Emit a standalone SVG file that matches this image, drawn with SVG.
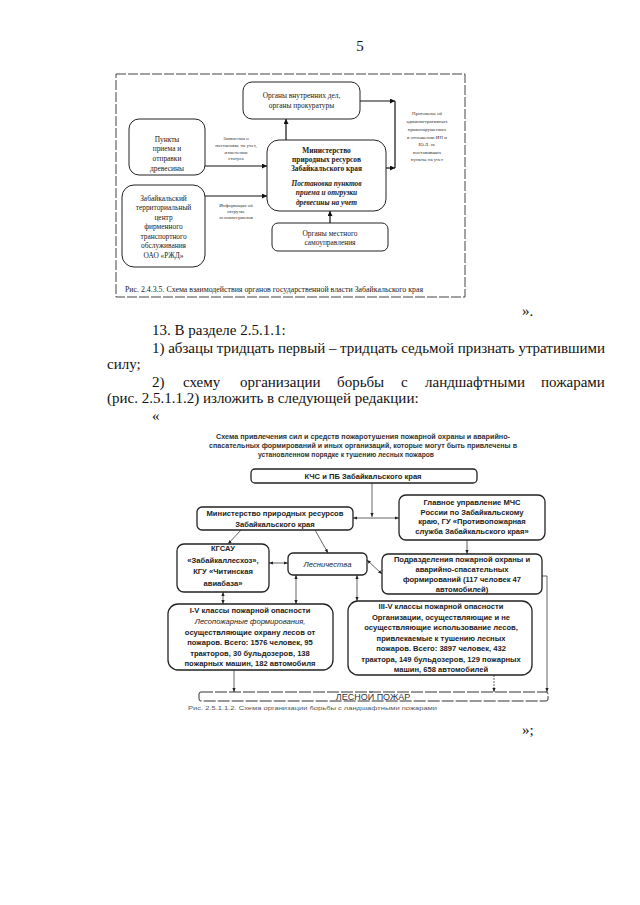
<svg xmlns="http://www.w3.org/2000/svg" width="640" height="905" viewBox="0 0 640 905">
<style>
.pg{font-family:"Liberation Serif",serif;font-size:15px;fill:#111}
.t{font-family:"Liberation Serif",serif;font-size:7.4px;fill:#222;text-anchor:middle}
.cap{font-family:"Liberation Serif",serif;font-size:7.4px;fill:#222;text-anchor:start}
.tb{font-family:"Liberation Serif",serif;font-size:7.4px;font-weight:bold;fill:#222;text-anchor:middle}
.tbi{font-family:"Liberation Serif",serif;font-size:7.4px;font-weight:bold;font-style:italic;fill:#222;text-anchor:middle}
.ts{font-family:"Liberation Serif",serif;font-size:5px;fill:#333;text-anchor:middle}
.s{font-family:"Liberation Sans",sans-serif;font-size:7.6px;font-weight:bold;fill:#222;text-anchor:middle}
.si{font-family:"Liberation Sans",sans-serif;font-size:7.6px;font-style:italic;fill:#222;text-anchor:middle}
.st{font-family:"Liberation Sans",sans-serif;font-size:6.4px;font-weight:bold;fill:#333}
.box{fill:#fff;stroke:#222;stroke-width:1}
.bbox{fill:#fff;stroke:#222;stroke-width:1.3}
.ln{fill:none;stroke:#111;stroke-width:1.2}
.tl{fill:none;stroke:#222;stroke-width:0.7}
</style>
<defs>
<marker id="ah" viewBox="0 0 10 10" refX="10" refY="5" markerUnits="userSpaceOnUse" markerWidth="5" markerHeight="5" orient="auto-start-reverse"><path d="M0,0 L10,5 L0,10 z" fill="#111"/></marker>
<marker id="as" viewBox="0 0 10 10" refX="10" refY="5" markerUnits="userSpaceOnUse" markerWidth="4" markerHeight="4" orient="auto-start-reverse"><path d="M0,1 L10,5 L0,9 z" fill="#222"/></marker>
</defs>
<rect width="640" height="905" fill="#fff"/>

<text class="pg" x="360" y="51" text-anchor="middle">5</text>

<!-- top figure -->
<g id="fig1">
<rect x="116" y="74" width="349" height="223" fill="none" stroke="#444" stroke-width="1" stroke-dasharray="10 2"/>
<g id="n-mvd"><rect class="box" x="243" y="82" width="117" height="37" rx="9"/>
<text class="t" x="301.5" y="97.5">Органы внутренних дел,</text>
<text class="t" x="301.5" y="107.5">органы прокуратуры</text></g>
<g id="n-punkty"><rect class="box" x="129" y="119" width="76" height="56" rx="10"/>
<text class="t" x="167" y="141.5">Пункты</text>
<text class="t" x="167" y="151">приема и</text>
<text class="t" x="167" y="160.5">отправки</text>
<text class="t" x="167" y="170.5">древесины</text></g>
<g id="n-minprir"><rect class="box" x="267" y="140" width="119" height="71" rx="12"/>
<text class="tb" x="326.5" y="152.5">Министерство</text>
<text class="tb" x="326.5" y="161.5">природных ресурсов</text>
<text class="tb" x="326.5" y="170.5">Забайкальского края</text>
<text class="tbi" x="326.5" y="185.5">Постановка пунктов</text>
<text class="tbi" x="326.5" y="195">приема и отгрузки</text>
<text class="tbi" x="326.5" y="204.5">древесины на учет</text></g>
<g id="n-rzd"><rect class="box" x="122" y="185" width="83" height="82" rx="12"/>
<text class="t" x="163.5" y="200.5">Забайкальский</text>
<text class="t" x="163.5" y="210">территориальный</text>
<text class="t" x="163.5" y="219.5">центр</text>
<text class="t" x="163.5" y="229">фирменного</text>
<text class="t" x="163.5" y="238.5">транспортного</text>
<text class="t" x="163.5" y="248">обслуживания</text>
<text class="t" x="163.5" y="257.5">ОАО «РЖД»</text></g>
<g id="n-msu"><rect class="box" x="272" y="223" width="116" height="28" rx="6"/>
<text class="t" x="330" y="235.5">Органы местного</text>
<text class="t" x="330" y="244.5">самоуправления</text></g>
<g id="n-prot">
<text class="ts" x="427" y="115">Протоколы об</text>
<text class="ts" x="427" y="123">административных</text>
<text class="ts" x="427" y="131">правонарушениях</text>
<text class="ts" x="427" y="139">в отношении ИП и</text>
<text class="ts" x="427" y="146">Ю.Л. не</text>
<text class="ts" x="427" y="154">поставивших</text>
<text class="ts" x="427" y="161">пункты на учет</text></g>
<g id="c-fig1">
<path class="ln" d="M205,166 H267" marker-end="url(#ah)"/>
<path class="ln" d="M205,196 H267" marker-end="url(#ah)"/>
<path class="ln" d="M286,140 V119" marker-end="url(#ah)"/>
<path class="ln" d="M330,223 V211" marker-end="url(#ah)"/>
<path class="ln" d="M360,101 H395" marker-end="url(#ah)"/>
<path class="ln" d="M386,168 H395" marker-end="url(#ah)"/>
<path class="ln" d="M395,101 V168"/>
<text class="ts" x="236" y="140">Заявления о</text>
<text class="ts" x="236" y="147">постановке на учет,</text>
<text class="ts" x="236" y="153.5">изменении</text>
<text class="ts" x="236" y="160">статуса</text>
<text class="ts" x="236" y="206.5">Информация об</text>
<text class="ts" x="236" y="212.5">отгрузке</text>
<text class="ts" x="236" y="218.5">лесоматериалов</text>
</g>
<text class="cap" x="125" y="291.5" textLength="298" lengthAdjust="spacingAndGlyphs">Рис. 2.4.3.5. Схема взаимодействия органов государственной власти Забайкальского края</text>
</g>

<!-- body text -->
<g id="body">
<text class="pg" x="522" y="316">».</text>
<text class="pg" x="152" y="335">13. В разделе 2.5.1.1:</text>
<text class="pg" x="152" y="353" textLength="453" lengthAdjust="spacing">1) абзацы тридцать первый – тридцать седьмой признать утратившими</text>
<text class="pg" x="107" y="369">силу;</text>
<text class="pg" y="387"><tspan x="152">2)</tspan><tspan x="183">схему</tspan><tspan x="240">организации</tspan><tspan x="337">борьбы</tspan><tspan x="401">с</tspan><tspan x="425">ландшафтными</tspan><tspan x="541">пожарами</tspan></text>
<text class="pg" x="107" y="403">(рис. 2.5.1.1.2) изложить в следующей редакции:</text>
<text class="pg" x="152" y="421">«</text>
</g>

<!-- bottom figure -->
<g id="fig2">
<text class="st" x="216" y="439" textLength="294" lengthAdjust="spacingAndGlyphs">Схема привлечения сил и средств пожаротушения пожарной охраны и аварийно-</text>
<text class="st" x="209" y="448" textLength="308" lengthAdjust="spacingAndGlyphs">спасательных формирований и иных организаций, которые могут быть привлечены в</text>
<text class="st" x="258" y="457" textLength="176" lengthAdjust="spacingAndGlyphs">установленном порядке к тушению лесных пожаров</text>

<g id="n-kchs"><rect class="bbox" x="251" y="469" width="226" height="14" rx="4"/>
<text class="s" x="363" y="479">КЧС и ПБ Забайкальского края</text></g>
<g id="n-min2"><rect class="bbox" x="197" y="507" width="156" height="23" rx="5"/>
<text class="s" x="275" y="516">Министерство природных ресурсов</text>
<text class="s" x="275" y="527">Забайкальского края</text></g>
<g id="n-mchs"><rect class="bbox" x="399" y="495" width="146" height="45" rx="7"/>
<text class="s" x="472" y="505">Главное управление МЧС</text>
<text class="s" x="472" y="514.5">России по Забайкальскому</text>
<text class="s" x="472" y="524">краю, ГУ «Противопожарная</text>
<text class="s" x="472" y="533.5">служба Забайкальского края»</text></g>
<g id="n-kgsau"><rect class="bbox" x="177" y="544" width="92" height="48" rx="7"/>
<text class="s" x="223" y="551">КГСАУ</text>
<text class="s" x="223" y="562.5">«Забайкаллесхоз»,</text>
<text class="s" x="223" y="574">КГУ «Читинская</text>
<text class="s" x="223" y="585.5">авиабаза»</text></g>
<g id="n-les"><rect class="bbox" x="288" y="553" width="79" height="22" rx="5"/>
<text class="si" x="327.5" y="567">Лесничества</text></g>
<g id="n-podr"><rect class="bbox" x="382" y="554" width="160" height="40" rx="6"/>
<text class="s" x="462" y="561.5">Подразделения пожарной охраны и</text>
<text class="s" x="462" y="571.5">аварийно-спасательных</text>
<text class="s" x="462" y="581.5">формирований (117 человек 47</text>
<text class="s" x="462" y="592">автомобилей)</text></g>
<g id="n-i5"><rect class="bbox" x="168" y="604" width="165" height="66" rx="10"/>
<text class="s" x="250" y="613">I-V классы пожарной опасности</text>
<text class="si" x="250" y="623.5">Лесопожарные формирования,</text>
<text class="s" x="250" y="634.5">осуществляющие охрану лесов от</text>
<text class="s" x="250" y="645">пожаров. Всего: 1576 человек, 95</text>
<text class="s" x="250" y="655.5">тракторов, 30 бульдозеров, 138</text>
<text class="s" x="250" y="666">пожарных машин, 182 автомобиля</text></g>
<g id="n-iii5"><rect class="bbox" x="348" y="601" width="184" height="74" rx="10"/>
<text class="s" x="441" y="609">III-V классы пожарной опасности</text>
<text class="s" x="441" y="619.5">Организации, осуществляющие и не</text>
<text class="s" x="441" y="630">осуществляющие использование лесов,</text>
<text class="s" x="441" y="640.5">привлекаемые к тушению лесных</text>
<text class="s" x="441" y="651">пожаров. Всего: 3897 человек, 432</text>
<text class="s" x="441" y="661.5">трактора, 149 бульдозеров, 129 пожарных</text>
<text class="s" x="441" y="672">машин, 658 автомобилей</text></g>
<g id="n-fire"><rect x="199" y="692" width="349" height="9" rx="2" fill="#fff" stroke="#333" stroke-width="1" stroke-dasharray="12 2"/>
<text x="373" y="700" text-anchor="middle" font-family="Liberation Sans, sans-serif" font-size="9px" fill="#333">ЛЕСНОЙ ПОЖАР</text></g>

<g id="c-fig2">
<path class="tl" d="M372,483 V517" marker-end="url(#as)"/>
<path class="tl" d="M353,518 H399" marker-start="url(#as)" marker-end="url(#as)"/>
<path class="tl" d="M241,530 L228,544" marker-end="url(#as)"/>
<path class="tl" d="M315,530 L328,553" marker-end="url(#as)"/>
<path class="tl" d="M269,563 H288" marker-start="url(#as)" marker-end="url(#as)"/>
<path class="tl" d="M467,540 V554" marker-end="url(#as)"/>
<path class="tl" d="M367,560 L382,574" marker-start="url(#as)" marker-end="url(#as)"/>
<path class="tl" d="M223,592 V604" marker-start="url(#as)" marker-end="url(#as)"/>
<path class="tl" d="M296,575 V604" marker-start="url(#as)" marker-end="url(#as)"/>
<path class="tl" d="M357,575 V601" marker-start="url(#as)" marker-end="url(#as)"/>
<path class="tl" d="M234,670 V692" marker-end="url(#as)"/>
<path class="tl" d="M494,675 V692" marker-end="url(#as)" stroke-dasharray="2 1"/>
<path class="tl" d="M542,576 H547 V692" marker-end="url(#as)"/>
</g>
<text x="188" y="710" font-family="Liberation Sans, sans-serif" font-size="5px" fill="#555" textLength="249" lengthAdjust="spacingAndGlyphs">Рис. 2.5.1.1.2. Схема организации борьбы с ландшафтными пожарами</text>
</g>
<text class="pg" x="522" y="735">»;</text>
</svg>
